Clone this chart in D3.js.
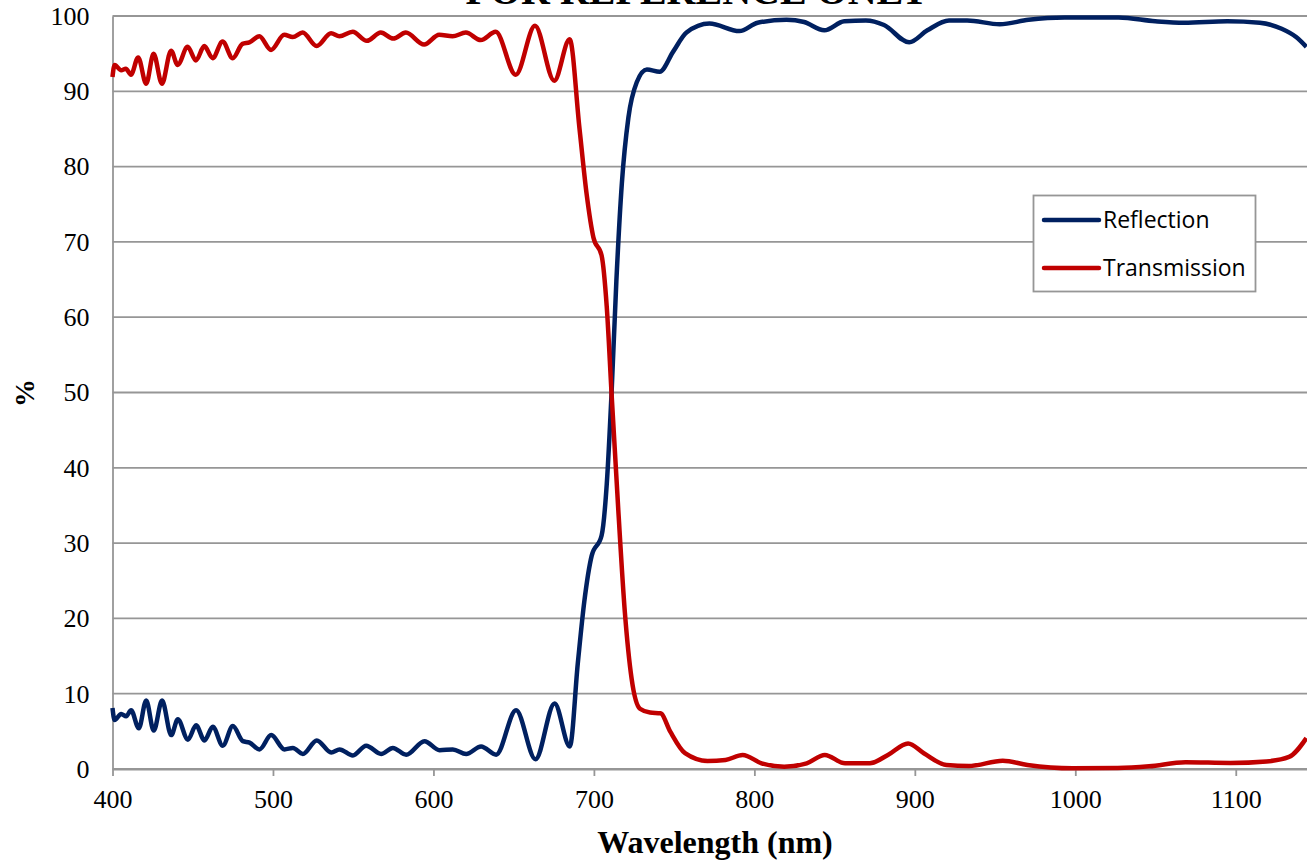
<!DOCTYPE html>
<html>
<head>
<meta charset="utf-8">
<script src="https://cdn.jsdelivr.net/npm/d3@7"></script>
<style>
    body { margin: 0; background: #fff; }
    svg { display: block; }
</style>
</head>
<body>
<div id="drawing_region"></div>
<script>
// Wavelength (nm) and % values
const trans_wl = [400, 401.3, 405.4, 408.3, 411.5, 416, 421, 425.6, 430.8, 436.5, 440.6, 446.8, 452, 457.2, 462.4, 468.6, 474.9, 481, 485.3, 491.5, 498.8, 507, 512.3, 518.5, 527.2, 536.2, 541.4, 549.7, 558.5, 567.2, 575, 582.8, 594.2, 603.6, 611.9, 620.2, 629.5, 638.8, 651.3, 663.3, 675.3, 684.9, 691, 695.5, 699.7, 704.8, 708, 711, 715.2, 719.3, 723.5, 728.7, 735, 741.5, 747.5, 756.8, 770.8, 782, 792.7, 804.5, 818.6, 832.6, 843.9, 856.5, 872, 883.2, 895.8, 905.6, 919.7, 933.7, 954.8, 970.2, 998.3, 1026.4, 1046, 1068.6, 1096.7, 1119.1, 1133.2, 1144];
const trans_val = [91.9, 93.5, 92.8, 93.0, 92.2, 94.5, 91.0, 95.0, 91.0, 95.4, 93.5, 95.9, 94.1, 96.0, 94.4, 96.6, 94.4, 96.3, 96.5, 97.3, 95.5, 97.5, 97.2, 97.8, 96.0, 97.7, 97.3, 97.9, 96.7, 97.8, 97.0, 97.8, 96.2, 97.5, 97.3, 97.8, 96.8, 97.9, 92.2, 98.7, 91.4, 96.9, 85.1, 76.3, 70.6, 68.2, 61.4, 49.9, 34.4, 20.8, 12.0, 8.0, 7.5, 7.4, 5.0, 2.1, 1.07, 1.2, 1.87, 0.76, 0.3, 0.76, 1.87, 0.76, 0.76, 1.87, 3.4, 2.1, 0.53, 0.4, 1.1, 0.53, 0.09, 0.13, 0.36, 0.9, 0.8, 1.0, 1.6, 4.1];

const refl_wl = [400, 401.3, 405.4, 408.5, 411.6, 416.4, 421, 425.7, 430.9, 436.6, 440.7, 447, 452.1, 457.3, 462.5, 468.7, 475, 481.2, 485.4, 491.6, 498.9, 507.2, 512.4, 518.6, 527.3, 536.3, 541.5, 549.8, 558.1, 567.4, 574.7, 583, 594.4, 603.8, 612.1, 620.4, 629.7, 639.1, 651.5, 663.6, 675.5, 685, 690, 694, 698.6, 704.8, 708, 711, 714, 717.4, 721.5, 726.7, 733, 741, 749.5, 757.7, 772, 790.7, 802, 820, 831, 843.6, 856, 869.5, 880.8, 896.5, 907.8, 921.3, 932.6, 952.9, 970.9, 993.4, 1027, 1049.8, 1067.8, 1094.8, 1115, 1128.6, 1137.6, 1144];
const refl_val = [8.1, 6.5, 7.3, 7.0, 7.8, 5.4, 9.1, 5.1, 9.1, 4.5, 6.6, 3.9, 5.8, 3.8, 5.6, 3.1, 5.7, 3.7, 3.5, 2.6, 4.5, 2.6, 2.8, 2.0, 3.8, 2.2, 2.6, 1.8, 3.1, 2.0, 2.8, 1.9, 3.7, 2.5, 2.6, 2.0, 3.0, 1.9, 7.8, 1.3, 8.7, 3.0, 14.1, 22.2, 28.3, 31.0, 37.8, 49.9, 64.8, 77.7, 86.5, 91.2, 92.9, 92.6, 95.3, 97.8, 99.0, 98.0, 99.1, 99.5, 99.2, 98.1, 99.3, 99.4, 98.8, 96.5, 98.1, 99.4, 99.4, 98.9, 99.5, 99.8, 99.8, 99.3, 99.1, 99.3, 99.1, 98.3, 97.2, 95.9];

const series_names = ['Reflection', 'Transmission'];
const series_colors = ['#002060', '#c00000'];
const x_ticks = [400, 500, 600, 700, 800, 900, 1000, 1100];
const y_ticks = [0, 10, 20, 30, 40, 50, 60, 70, 80, 90, 100];

const chart_title = 'FOR REFERENCE ONLY';
const x_label = 'Wavelength (nm)';
const y_label = '%';

class SpectrumChart {

    constructor( config, series ) {
        this.config = {
            parent: config.parent,
            width: config.width || 1307,
            height: config.height || 862,
            margin: config.margin || {top: 16, right: -9, bottom: 93, left: 112.5}
        }
        this.series = series;
        this.init();
    }

    init() {
        let self = this;

        self.svg = d3.select( self.config.parent )
            .append('svg')
            .attr('width', self.config.width)
            .attr('height', self.config.height);

        self.chart = self.svg.append('g')
            .attr('transform', `translate(${self.config.margin.left}, ${self.config.margin.top})`);

        self.inner_width = self.config.width - self.config.margin.left - self.config.margin.right;
        self.inner_height = self.config.height - self.config.margin.top - self.config.margin.bottom;

        self.xscale = d3.scaleLinear().domain([400, 1150]).range([0, self.inner_width]);
        self.yscale = d3.scaleLinear().domain([0, 100]).range([self.inner_height, 0]);

        self.line = d3.line()
            .x( d => self.xscale(d.x) )
            .y( d => self.yscale(d.y) )
            .curve( d3.curveMonotoneX );
    }

    render() {
        let self = this;
        const serif = '"Liberation Serif", "Times New Roman", serif';
        const grid = '#969696';

        // horizontal grid lines
        self.chart.append('g')
            .selectAll('line')
            .data(y_ticks)
            .join('line')
            .attr('x1', 0)
            .attr('x2', self.inner_width)
            .attr('y1', d => self.yscale(d))
            .attr('y2', d => self.yscale(d))
            .attr('stroke', grid)
            .attr('stroke-width', 1.8);

        // y axis
        const yaxis = self.chart.append('g')
            .call( d3.axisLeft(self.yscale).tickValues(y_ticks).tickSize(0).tickPadding(23) );
        yaxis.select('.domain').attr('stroke', grid).attr('stroke-width', 1.8);
        yaxis.selectAll('text')
            .attr('font-family', serif)
            .attr('font-size', 26)
            .attr('fill', '#000');

        // x axis
        const xaxis = self.chart.append('g')
            .attr('transform', `translate(0, ${self.inner_height})`)
            .call( d3.axisBottom(self.xscale).tickValues(x_ticks).tickFormat(d3.format('d'))
                .tickSize(7).tickPadding(14).tickSizeOuter(0) );
        xaxis.select('.domain').attr('stroke', grid).attr('stroke-width', 1.8);
        xaxis.selectAll('line').attr('stroke', grid).attr('stroke-width', 1.8);
        xaxis.selectAll('text')
            .attr('font-family', serif)
            .attr('font-size', 26)
            .attr('fill', '#000');

        // curves
        self.chart.append('g')
            .selectAll('path')
            .data(self.series)
            .join('path')
            .attr('d', d => self.line(d.values))
            .attr('fill', 'none')
            .attr('stroke', d => d.color)
            .attr('stroke-width', 4.5)
            .attr('stroke-linejoin', 'round');

        // legend
        const legend = self.svg.append('g');
        legend.append('rect')
            .attr('x', 1033.5)
            .attr('y', 195.5)
            .attr('width', 222)
            .attr('height', 96)
            .attr('fill', '#fff')
            .attr('stroke', grid)
            .attr('stroke-width', 1.8);
        const items = legend.selectAll('g.item')
            .data(self.series)
            .join('g')
            .attr('class', 'item')
            .attr('transform', (d, i) => `translate(1044, ${220 + i * 48})`);
        items.append('line')
            .attr('x1', 0)
            .attr('x2', 55)
            .attr('stroke', d => d.color)
            .attr('stroke-width', 4.5)
            .attr('stroke-linecap', 'round');
        items.append('text')
            .attr('x', 59)
            .attr('dy', '0.35em')
            .attr('font-family', '"Open Sans", sans-serif')
            .attr('font-size', 23)
            .attr('fill', '#000')
            .text(d => d.name);

        // titles
        self.svg.append('text')
            .attr('x', 697)
            .attr('y', 4)
            .attr('text-anchor', 'middle')
            .attr('font-family', serif)
            .attr('font-weight', 'bold')
            .attr('font-size', 40)
            .text(chart_title);

        self.svg.append('text')
            .attr('x', 715)
            .attr('y', 853)
            .attr('text-anchor', 'middle')
            .attr('font-family', serif)
            .attr('font-weight', 'bold')
            .attr('font-size', 32)
            .text(x_label);

        self.svg.append('text')
            .attr('transform', 'translate(34, 393) rotate(-90)')
            .attr('text-anchor', 'middle')
            .attr('font-family', serif)
            .attr('font-weight', 'bold')
            .attr('font-size', 28)
            .text(y_label);
    }
}

const series = [
    { name: series_names[0], color: series_colors[0], values: refl_wl.map( (x, i) => ({x: x, y: refl_val[i]}) ) },
    { name: series_names[1], color: series_colors[1], values: trans_wl.map( (x, i) => ({x: x, y: trans_val[i]}) ) }
];

const spectrum_chart = new SpectrumChart( { parent: '#drawing_region', width: 1307, height: 862 }, series );
spectrum_chart.render();
</script>
</body>
</html>
